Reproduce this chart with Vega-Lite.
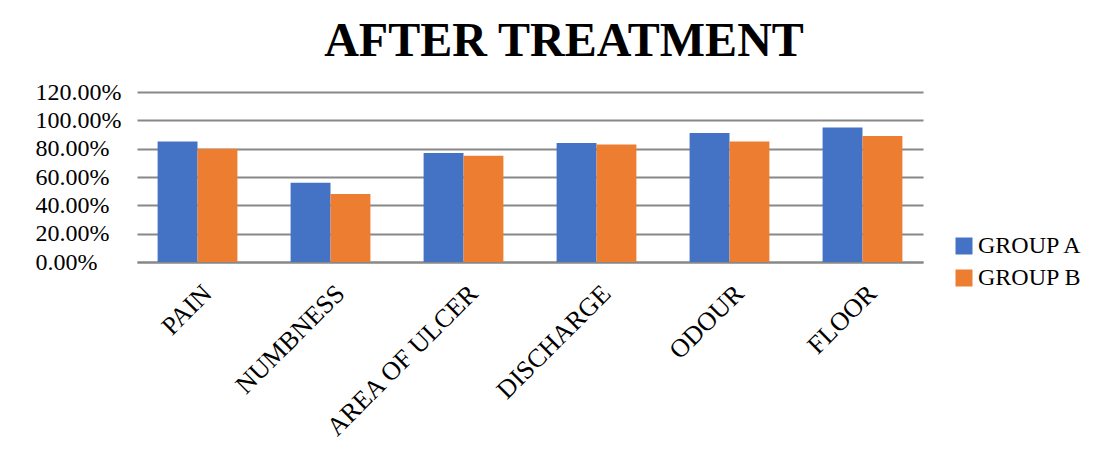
{
  "$schema": "https://vega.github.io/schema/vega-lite/v6.json",
  "width": 786,
  "height": 170,
  "autosize": {"type": "none"},
  "padding": {"left": 137, "top": 92, "right": 190, "bottom": 190},
  "background": "white",
  "title": {"text": "AFTER TREATMENT", "font": "Liberation Serif", "fontSize": 48, "fontWeight": "bold", "anchor": "middle", "frame": "group", "dx": 34, "offset": 14, "color": "black"},
  "data": {"values": [
    {"symptom": "PAIN", "group": "GROUP A", "value": 0.85},
    {"symptom": "PAIN", "group": "GROUP B", "value": 0.80},
    {"symptom": "NUMBNESS", "group": "GROUP A", "value": 0.56},
    {"symptom": "NUMBNESS", "group": "GROUP B", "value": 0.48},
    {"symptom": "AREA OF ULCER", "group": "GROUP A", "value": 0.77},
    {"symptom": "AREA OF ULCER", "group": "GROUP B", "value": 0.75},
    {"symptom": "DISCHARGE", "group": "GROUP A", "value": 0.84},
    {"symptom": "DISCHARGE", "group": "GROUP B", "value": 0.83},
    {"symptom": "ODOUR", "group": "GROUP A", "value": 0.91},
    {"symptom": "ODOUR", "group": "GROUP B", "value": 0.85},
    {"symptom": "FLOOR", "group": "GROUP A", "value": 0.95},
    {"symptom": "FLOOR", "group": "GROUP B", "value": 0.89}
  ]},
  "mark": {"type": "bar"},
  "encoding": {
    "x": {"field": "symptom", "type": "nominal", "sort": null,
      "scale": {"paddingInner": 0.4, "paddingOuter": 0.155},
      "axis": {"title": null, "labelAngle": -45, "labelAlign": "right", "labelBaseline": "middle", "labelFont": "Liberation Serif", "labelFontSize": 26, "labelColor": "black", "labelLimit": 0, "ticks": false, "tickSize": 0, "domain": true, "domainColor": "#888888", "domainWidth": 2, "grid": false, "labelPadding": 27, "labelOffset": 10}},
    "xOffset": {"field": "group", "type": "nominal"},
    "y": {"field": "value", "type": "quantitative", "scale": {"domain": [0, 1.2]},
      "axis": {"title": null, "values": [0, 0.2, 0.4, 0.6, 0.8, 1.0, 1.2], "format": ".2%", "labelAlign": "left", "labelBaseline": "middle", "labelPadding": 102, "ticks": false, "tickSize": 0, "domain": false, "grid": true, "gridColor": "#888888", "gridWidth": 2, "labelFont": "Liberation Serif", "labelFontSize": 24, "labelColor": "black"}},
    "color": {"field": "group", "type": "nominal", "scale": {"range": ["#4472C4", "#ED7D31"]},
      "legend": {"title": null, "orient": "none", "legendX": 815, "legendY": 142, "symbolType": "square", "symbolSize": 289, "symbolStrokeWidth": 0, "labelFont": "Liberation Serif", "labelFontSize": 24, "labelColor": "black", "labelOffset": 2, "rowPadding": 8}}
  },
  "config": {"view": {"stroke": null}}
}
